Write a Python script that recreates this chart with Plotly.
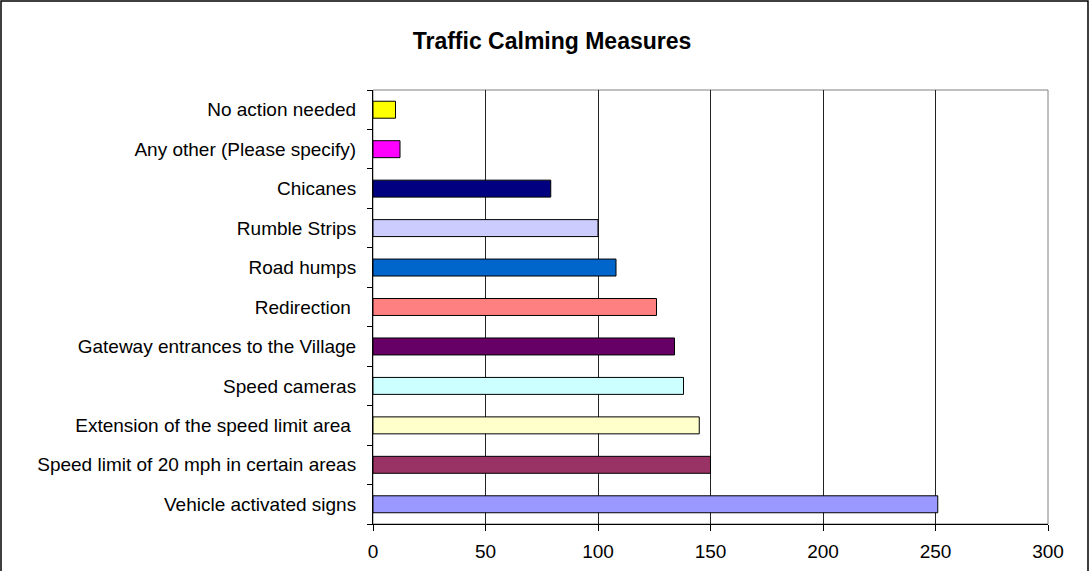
import plotly.graph_objects as go

categories = [
    "Vehicle activated signs",
    "Speed limit of 20 mph in certain areas",
    "Extension of the speed limit area ",
    "Speed cameras",
    "Gateway entrances to the Village",
    "Redirection ",
    "Road humps",
    "Rumble Strips",
    "Chicanes",
    "Any other (Please specify)",
    "No action needed",
]
values = [251, 150, 145, 138, 134, 126, 108, 100, 79, 12, 10]
colors = ["#9999FF", "#993366", "#FFFFCC", "#CCFFFF", "#660066", "#FF8080",
          "#0066CC", "#CCCCFF", "#000080", "#FF00FF", "#FFFF00"]
x_ticks = [0, 50, 100, 150, 200, 250, 300]

W, H = 1089, 571
L, R, T, B = 373, 41, 90, 47
pw, ph = W - L - R, H - T - B

fig = go.Figure(go.Bar(
    y=categories, x=values, orientation="h",
    marker=dict(color=colors, line=dict(color="black", width=1)),
    width=0.43, hoverinfo="x+y",
))

font = "Liberation Sans, Arial, sans-serif"
fig.update_layout(
    width=W, height=H,
    margin=dict(l=L, r=R, t=T, b=B, autoexpand=False),
    paper_bgcolor="white", plot_bgcolor="white",
    font=dict(family=font, size=19, color="black"),
    title=dict(text="<b>Traffic Calming Measures</b>", x=552 / W, xref="container",
               xanchor="center", y=1 - 41 / H, yref="container", yanchor="middle",
               font=dict(size=23, family=font)),
    showlegend=False,
    bargap=0.57,
    xaxis=dict(range=[0, 300], tickvals=x_ticks, showgrid=True, gridcolor="#222222",
               gridwidth=1, showline=True, linecolor="black", linewidth=1,
               ticks="outside", ticklen=6, tickcolor="black", zeroline=False,
               ticklabelstandoff=4, tickfont=dict(size=19), fixedrange=True),
    yaxis=dict(type="category", categoryorder="array", categoryarray=categories,
               showline=True, linecolor="black", linewidth=1, ticks="outside",
               ticklen=5, tickcolor="black", tickson="boundaries",
               showgrid=False, ticklabelstandoff=12, tickfont=dict(size=19),
               fixedrange=True),
    shapes=[
        dict(type="rect", xref="paper", yref="paper",
             x0=(1 - L) / pw, x1=(W - 1 - L) / pw,
             y0=-(B + 5) / ph, y1=1 + (T - 1) / ph,
             line=dict(color="black", width=1.5), layer="below"),
        dict(type="rect", xref="paper", yref="paper", x0=0, x1=1, y0=0, y1=1,
             line=dict(color="#808080", width=1), layer="below"),
    ],
)

fig.write_html("out.html", config={"displayModeBar": False},
               post_script="document.body.style.margin='0';")
